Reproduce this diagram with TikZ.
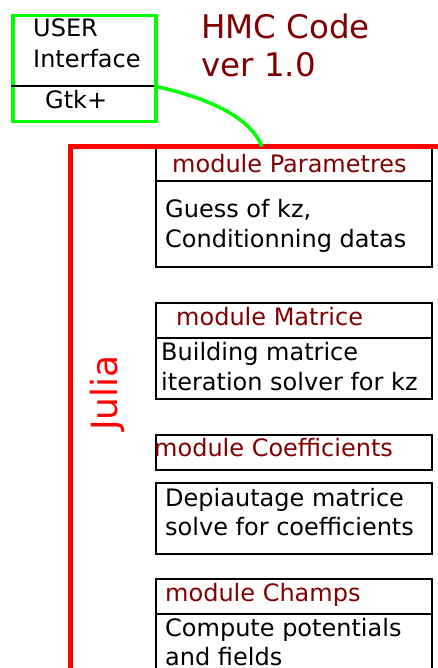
\documentclass[tikz,border=0pt]{standalone}
\usepackage{fontspec}
\setmainfont{DejaVu Sans}
\definecolor{modred}{RGB}{128,0,0}
\definecolor{uigreen}{RGB}{0,255,0}
\definecolor{frame}{RGB}{255,0,0}
\begin{document}
\begin{tikzpicture}[x=1pt,y=-1pt,
  txt/.style={inner sep=0pt,anchor=base west,font=\fontsize{24}{29}\selectfont},
  modname/.style={txt,text=modred},
  box/.style={draw=black,line width=2pt,inner sep=0pt,anchor=north west,minimum width=275.5pt},
  uibox/.style={draw=uigreen,line width=3.5pt,inner sep=0pt,anchor=north west,minimum width=143pt,minimum height=106pt}]
\useasboundingbox (0,0) rectangle (438,668);
\clip (0,0) rectangle (438,668);

% user interface block
\node[uibox] (ui) at (11,14) {};
\coordinate (uidiv) at (11,86);
\draw[line width=1.5pt] (uidiv) -- (154,86) coordinate (uiport);
\node[txt] (user) at (33,37) {USER};
\node[txt] (iface) at (33,68) {Interface};
\node[txt] (gtk) at (45,109) {Gtk+};

% title
\node[txt,text=modred,font=\fontsize{32.5}{38}\selectfont] (title1) at (201,39) {HMC Code};
\node[txt,text=modred,font=\fontsize{32.5}{38}\selectfont] (title2) at (201,77) {ver 1.0};

% module boxes
\node[box,minimum height=118.5pt] (parbox) at (155,147) {};
\draw[line width=2pt] (155,181.5) -- (430.5,181.5);
\node[box,minimum height=96pt] (matbox) at (155,301.5) {};
\draw[line width=2pt] (155,337.5) -- (430.5,337.5);
\node[box,minimum height=35pt] (coefhead) at (155,434) {};
\node[box,minimum height=71pt] (coefbody) at (155,482) {};
\node[box,minimum height=130pt] (chbox) at (155,578) {};
\draw[line width=2pt] (155,614) -- (430.5,614);

% Julia frame
\coordinate (jl) at (70.5,700);
\coordinate (jc) at (70.5,146.5);
\coordinate (jr) at (500,146.5);
\draw[frame,line width=5pt] (jl) -- (jc) -- (jr);
\coordinate (jtop) at (262,146.5);
\node[text=frame,font=\fontsize{36}{40}\selectfont,rotate=90,inner sep=0pt] (julia) at (107,393) {Julia};

% link from the interface to the Julia code
\draw[uigreen,line width=3.5pt] (uiport) .. controls (205,97) and (250,116) .. (jtop);

% module texts
\node[modname] (parname) at (172,173) {module Parametres};
\node[txt] (par1) at (165,217) {Guess of kz,};
\node[txt] (par2) at (165,247) {Conditionning datas};

\node[modname] (matname) at (176,325) {module Matrice};
\node[txt] (mat1) at (161,360.5) {Building matrice};
\node[txt] (mat2) at (161,390) {iteration solver for kz};

\node[modname] (coefname) at (154,456.5) {module Coefficients};
\node[txt] (coef1) at (165,506) {Depiautage matrice};
\node[txt] (coef2) at (165,535) {solve for coefficients};

\node[modname] (chname) at (165,601.5) {module Champs};
\node[txt] (ch1) at (165,636.5) {Compute potentials};
\node[txt] (ch2) at (165,665) {and fields};
\end{tikzpicture}
\end{document}
